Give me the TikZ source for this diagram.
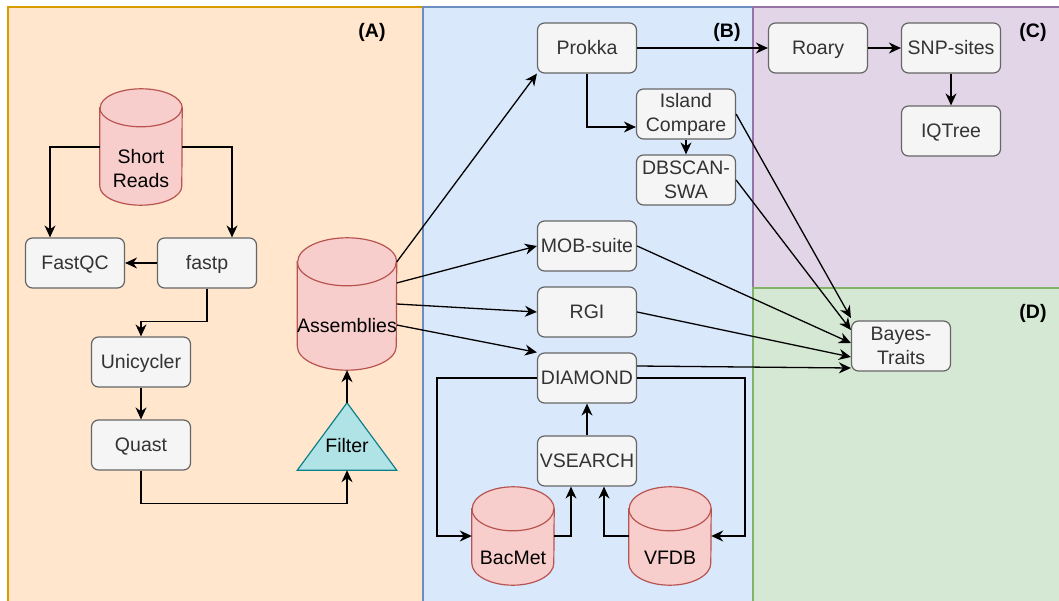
\documentclass[tikz,border=0pt]{standalone}
\usepackage{fontspec}
\setmainfont{Liberation Sans}
\usetikzlibrary{arrows.meta,backgrounds,calc}

\definecolor{toolfill}{HTML}{F5F5F5}
\definecolor{toolline}{HTML}{666666}
\definecolor{tooltext}{HTML}{333333}
\definecolor{dbfill}{HTML}{F8CECC}
\definecolor{dbline}{HTML}{B85450}
\definecolor{filterfill}{HTML}{B0E3E6}
\definecolor{filterline}{HTML}{0E8088}
\definecolor{Afill}{HTML}{FFE6CC}
\definecolor{Aline}{HTML}{D79B00}
\definecolor{Bfill}{HTML}{DAE8FC}
\definecolor{Bline}{HTML}{6C8EBF}
\definecolor{Cfill}{HTML}{E1D5E7}
\definecolor{Cline}{HTML}{9673A6}
\definecolor{Dfill}{HTML}{D5E8D4}
\definecolor{Dline}{HTML}{82B366}

\begin{document}
\begin{tikzpicture}[
    x=1pt, y=-1pt,
    >={Stealth[length=12pt,width=11pt]},
    every node/.style={font=\fontsize{19.5}{24}\selectfont},
    tool/.style={
        rectangle,
        rounded corners=7pt,
        draw=toolline,
        fill=toolfill,
        text=tooltext,
        line width=1.2pt,
        minimum width=99pt,
        minimum height=50pt,
        inner sep=1pt,
        align=center
    },
    oneline/.style={tool, text height=14pt, text depth=1pt},
    db/.style 2 args={
        rectangle,
        minimum width=#1,
        minimum height=#2,
        inner sep=0pt
    },
    dbtext/.style={align=center, yshift=-22pt},
    dbshape/.style={draw=dbline, fill=dbfill, line width=1.2pt},
    panel/.style={draw=#1line, fill=#1fill, line width=1.4pt},
    tag/.style={font=\fontsize{19.5}{24}\selectfont\bfseries},
    flow/.style={->, line width=1.3pt}
]
\useasboundingbox (0,0) rectangle (1059,601);

% Panels
\begin{scope}[on background layer]
\draw[panel=A] (8,7) rectangle (423,610);
\draw[panel=B] (423,7) rectangle (753,610);
\draw[panel=C] (753,7) rectangle (1065,288);
\draw[panel=D] (753,288) rectangle (1065,610);
\end{scope}

\node[tag] (tagA) at (372,32) {(A)};
\node[tag] (tagB) at (727,32) {(B)};
\node[tag] (tagC) at (1033,32) {(C)};
\node[tag] (tagD) at (1033,313) {(D)};

% Nodes — (A) read processing
\node[db={82pt}{116pt}, label={[dbtext]center:Short\\Reads}] (reads) at (141,147) {};
\node[oneline] (fastqc)    at (75,263)  {FastQC};
\node[oneline] (fastp)     at (207,263) {fastp};
\node[oneline] (unicycler) at (141,362) {Unicycler};
\node[oneline] (quast)     at (141,445) {Quast};
\node[minimum width=99pt, minimum height=67pt, inner sep=0pt,
      label={[yshift=-9pt]center:Filter}] (filter) at (347,436.5) {};
\node[db={99pt}{132pt}, label={[dbtext]center:Assemblies}] (asm) at (347,304) {};

% Nodes — (B) annotation
\node[oneline] (prokka)  at (587,48)  {Prokka};
\node[tool]    (island)  at (686,114) {Island\\Compare};
\node[tool]    (dbscan)  at (686,180) {DBSCAN-\\SWA};
\node[oneline] (mob)     at (587,246) {MOB-suite};
\node[oneline] (rgi)     at (587,312) {RGI};
\node[oneline] (diamond) at (587,378) {DIAMOND};
\node[oneline] (vsearch) at (587,461) {VSEARCH};
\node[db={82pt}{98pt}, label={[dbtext]center:BacMet}] (bacmet) at (513,536) {};
\node[db={82pt}{98pt}, label={[dbtext]center:VFDB}]   (vfdb)   at (670,536) {};

% Nodes — (C) phylogeny, (D) association
\node[oneline] (roary)  at (818,48)  {Roary};
\node[oneline] (snp)    at (951,48)  {SNP-sites};
\node[oneline] (iqtree) at (951,131) {IQTree};
\node[tool]    (bayes)  at (901,346) {Bayes-\\Traits};

% Database cylinders and filter triangle, behind their labels
\begin{scope}[on background layer]
\foreach \n/\w/\r in {reads/41/19, asm/49.5/24, bacmet/41/22, vfdb/41/22} {
    \draw[dbshape] ([yshift=-\r pt]\n.north west) -- ([yshift=\r pt]\n.south west)
        arc[start angle=180, end angle=360, x radius=\w pt, y radius=\r pt]
        -- ([yshift=-\r pt]\n.north east)
        arc[start angle=0, end angle=180, x radius=\w pt, y radius=\r pt] -- cycle;
    \draw[dbshape, fill=none] ([yshift=-\r pt]\n.north west)
        arc[start angle=180, end angle=360, x radius=\w pt, y radius=\r pt];
}
\draw[fill=filterfill, draw=filterline, line width=1.2pt]
    (filter.south west) -- (filter.south east) -- (filter.north) -- cycle;
\end{scope}

% Arrows — (A)
\draw[flow] (reads.west) -| ([xshift=-25pt]fastqc.north);
\draw[flow] (reads.east) -| ([xshift=25pt]fastp.north);
\draw[flow] (fastp.west) -- (fastqc.east);
\draw[flow] (fastp.south) -- ++(0,33) -| (unicycler.north);
\draw[flow] (unicycler) -- (quast);
\draw[flow] (quast.south) -- ++(0,33) -| (filter.south);
\draw[flow] (filter.north) -- (asm.south);

% Arrows — assemblies into (B)
\draw[flow] ([yshift=42pt]asm.east) -- (prokka.south west);
\draw[flow] ([yshift=21pt]asm.east) -- (mob.west);
\draw[flow] (asm.east) -- (rgi.west);
\draw[flow] ([yshift=-21pt]asm.east) -- (diamond.north west);

% Arrows — (B) and (C)
\draw[flow] (prokka.east) -- (roary.west);
\draw[flow] (prokka.south) |- ([yshift=-13pt]island.west);
\draw[flow] (island) -- (dbscan);
\draw[flow] (roary) -- (snp);
\draw[flow] (snp) -- (iqtree);
\draw[flow] (vsearch) -- (diamond);
\draw[flow] (diamond.west) -- ++(-100,0) |- (bacmet.west);
\draw[flow] (diamond.east) -- ++(108,0) |- (vfdb.east);
\draw[flow] (bacmet.east) -| ([xshift=-16pt]vsearch.south);
\draw[flow] (vfdb.west) -| ([xshift=17pt]vsearch.south);

% Arrows — into (D)
\draw[flow] (island.east) -- ([yshift=28pt]bayes.west);
\draw[flow] (dbscan.east) -- ([yshift=16pt]bayes.west);
\draw[flow] (mob.east) -- ([yshift=3pt]bayes.west);
\draw[flow] (rgi.east) -- ([yshift=-11pt]bayes.west);
\draw[flow] ([yshift=12pt]diamond.east) -- ([yshift=-22pt]bayes.west);

\end{tikzpicture}
\end{document}
